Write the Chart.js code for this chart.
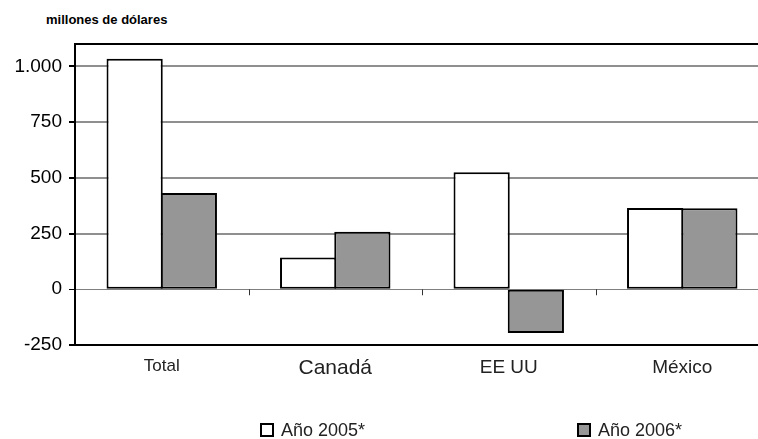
<!DOCTYPE html>
<html>
<head>
<meta charset="utf-8">
<script src="https://cdn.jsdelivr.net/npm/chart.js@4"></script>
<style>
  html,body{margin:0;padding:0;background:#fff;overflow:hidden;}
  body{width:758px;height:439px;position:relative;font-family:"Liberation Sans",Arial,sans-serif;}
  #wrap{position:absolute;left:0;top:0;width:772px;height:439px;}
  .title{position:absolute;left:46px;top:12px;font-size:13px;font-weight:bold;color:#000;}
  .leg{position:absolute;top:419px;font-size:18px;color:#222;line-height:22px;}
  .leg i{position:absolute;left:0;top:4px;width:10px;height:10px;border:2px solid #000;}
  .leg span{margin-left:21px;}
</style>
</head>
<body>
<div class="title">millones de dólares</div>
<div id="wrap"><canvas id="c" width="772" height="439"></canvas></div>
<div class="leg" style="left:260px"><i style="background:#fff"></i><span>Año 2005*</span></div>
<div class="leg" style="left:577px"><i style="background:#969696"></i><span>Año 2006*</span></div>
<script>
const categories = ["Total", "Canadá", "EE UU", "México"];
const seriesNames = ["Año 2005*", "Año 2006*"];
const values2005 = [1034, 143, 525, 365];
const values2006 = [432, 258, -196, 363];
const yTicks = [-250, 0, 250, 500, 750, 1000];
const yMin = -250, yMax = 1100;

const FONT = "'Liberation Sans', Arial, sans-serif";
const catFontSizes = [17, 21, 19, 19];

// small dividers between categories, hanging under the zero line
const zeroTicks = {
  id: "zeroTicks",
  beforeDatasetsDraw(chart){
    const xs = chart.scales.x, ys = chart.scales.y, ctx = chart.ctx;
    const y0 = ys.getPixelForValue(0);
    ctx.save(); ctx.strokeStyle = "#333"; ctx.lineWidth = 1;
    for(let i=1;i<categories.length;i++){
      const x = Math.round((xs.getPixelForValue(i-1)+xs.getPixelForValue(i))/2)+0.5;
      ctx.beginPath(); ctx.moveTo(x,y0); ctx.lineTo(x,y0+6); ctx.stroke();
    }
    ctx.restore();
  }
};

new Chart(document.getElementById("c"), {
  type: "bar",
  data: {
    labels: categories,
    datasets: [
      {label: seriesNames[0], data: values2005, backgroundColor: "#ffffff", borderColor: "#000", borderWidth: 2, borderSkipped: false},
      {label: seriesNames[1], data: values2006, backgroundColor: "#969696", borderColor: "#000", borderWidth: 2, borderSkipped: false}
    ]
  },
  options: {
    responsive: false,
    animation: false,
    layout: {padding: {top: 44, right: 3, left: 0, bottom: 0}},
    plugins: {legend: {display: false}, tooltip: {enabled: false}},
    datasets: {bar: {categoryPercentage: 0.625, barPercentage: 1.037}},
    scales: {
      x: {
        grid: {display: false, drawTicks: false},
        border: {color: "#000", width: 2},
        ticks: {
          color: "#222", padding: 11,
          font: ctx => ({family: FONT, size: catFontSizes[ctx.index] || 17})
        },
        afterFit: s => { s.height = 94; }
      },
      y: {
        min: yMin, max: yMax,
        afterBuildTicks: s => { s.ticks = yTicks.concat([yMax]).map(v => ({value: v})); },
        afterFit: s => { s.width = 75; },
        border: {color: "#000", width: 2},
        grid: {
          color: c => c.tick.value === yMax ? "#000" : c.tick.value === 0 ? "#7f7f7f" : c.tick.value === yMin ? "rgba(0,0,0,0)" : "#8f8f8f",
          lineWidth: c => c.tick.value === 0 ? 1 : 2,
          tickColor: c => c.tick.value === yMax ? "rgba(0,0,0,0)" : "#000",
          tickLength: 6
        },
        ticks: {
          color: "#000", padding: 7,
          font: {family: FONT, size: 19},
          callback: v => v === yMax ? "" : v.toLocaleString("de-DE")
        }
      }
    }
  },
  plugins: [zeroTicks]
});
</script>
</body>
</html>
